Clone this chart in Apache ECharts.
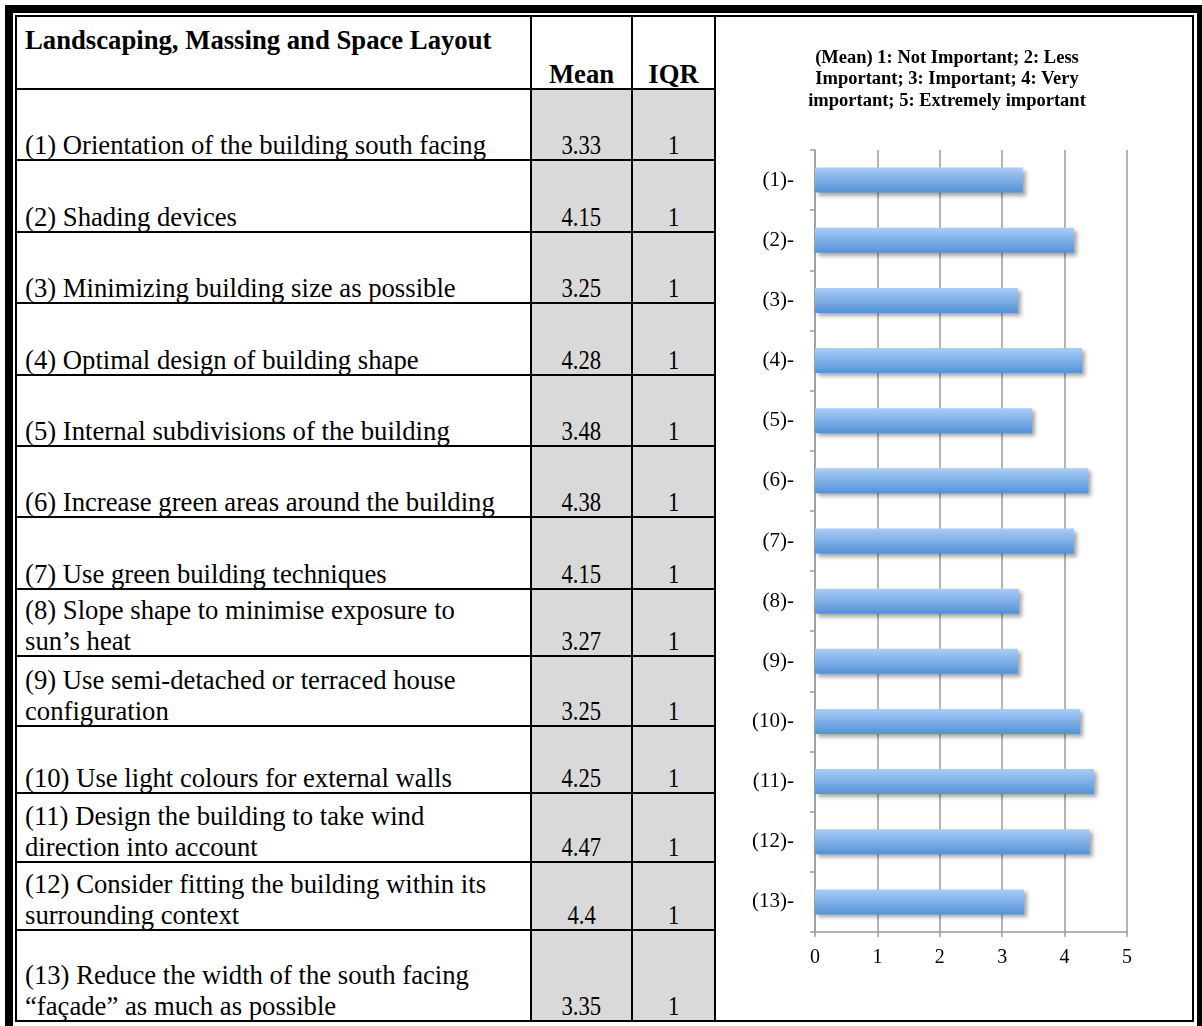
<!DOCTYPE html>
<html>
<head>
<meta charset="utf-8">
<script src="https://cdn.jsdelivr.net/npm/echarts@6/dist/echarts.min.js"></script>
<style>
  html, body { margin: 0; padding: 0; background: #fff; }
  body { width: 1202px; height: 1026px; position: relative; overflow: hidden;
         font-family: "Liberation Serif", "Times New Roman", serif; color: #000; }
  #frame { position: absolute; left: 5px; top: 5px; width: 1197px; height: 1030px;
           box-sizing: border-box; border: 8px solid #000; border-right-width: 5px; }
  #tbl { position: absolute; left: 15px; top: 15px; width: 1179px; height: 1007px;
         box-sizing: border-box; border-left: 2px solid #000; border-top: 2px solid #000;
         display: grid;
         grid-template-columns: 515px 101px 83px 478px;
         grid-template-rows: 73px 71px 72px 71px 72px 71px 71px 72px 67px 70px 67px 69px 68px 91px; }
  .c { box-sizing: border-box; border-right: 2px solid #000; border-bottom: 2px solid #000;
       font-size: 26.7px; line-height: 31px; display: flex; align-items: flex-end; }
  .c > span { position: relative; top: 2px; }
  .txt { padding-left: 8px; padding-bottom: 0; white-space: pre-line; }
  .hd { font-weight: bold; }
  .h0 { align-items: flex-start; padding-top: 6px; }
  .num { justify-content: center; padding-bottom: 0; }
  .g { background: #d9d9d9; }
  .dig { display: inline-block; transform: scaleX(0.85); }
  .chartcell { grid-column: 4; grid-row: 1 / 15; background: #fff; }
  #chart { position: absolute; left: 702px; top: 17px; width: 490px; height: 1003px; }
</style>
</head>
<body>
<div id="frame"></div>
<div id="tbl"></div>
<div id="chart"></div>
<script>
const tableTitle = 'Landscaping, Massing and Space Layout';
const colHeaders = ['Mean', 'IQR'];
const chartTitle = '(Mean) 1: Not Important; 2: Less\nImportant; 3: Important; 4: Very\nimportant; 5: Extremely important';
const categories = ['(1)-', '(2)-', '(3)-', '(4)-', '(5)-', '(6)-', '(7)-', '(8)-', '(9)-', '(10)-', '(11)-', '(12)-', '(13)-'];
const descriptions = [
  '(1) Orientation of the building south facing',
  '(2) Shading devices',
  '(3) Minimizing building size as possible',
  '(4) Optimal design of building shape',
  '(5) Internal subdivisions of the building',
  '(6) Increase green areas around the building',
  '(7) Use green building techniques',
  '(8) Slope shape to minimise exposure to\nsun\u2019s heat',
  '(9) Use semi-detached or terraced house\nconfiguration',
  '(10) Use light colours for external walls',
  '(11) Design the building to take wind\ndirection into account',
  '(12) Consider fitting the building within its\nsurrounding context',
  '(13) Reduce the width of the south facing\n\u201cfa\u00e7ade\u201d as much as possible'
];
const means = [3.33, 4.15, 3.25, 4.28, 3.48, 4.38, 4.15, 3.27, 3.25, 4.25, 4.47, 4.4, 3.35];
const iqrs = [1, 1, 1, 1, 1, 1, 1, 1, 1, 1, 1, 1, 1];
const xTicks = [0, 1, 2, 3, 4, 5];

// ---- table ----
const tbl = document.getElementById('tbl');
function cell(cls, text, extra, digits) {
  const d = document.createElement('div');
  d.className = 'c ' + cls;
  if (extra) Object.assign(d.style, extra);
  const s = document.createElement('span');
  s.textContent = text;
  if (digits) s.className = 'dig';
  d.appendChild(s);
  tbl.appendChild(d);
  return d;
}
cell('txt hd h0', tableTitle, { gridColumn: '1', gridRow: '1' });
cell('num hd', colHeaders[0], { gridColumn: '2', gridRow: '1' });
cell('num hd', colHeaders[1], { gridColumn: '3', gridRow: '1' });
const cc = document.createElement('div');
cc.className = 'c chartcell';
tbl.appendChild(cc);
for (let i = 0; i < descriptions.length; i++) {
  const r = String(i + 2);
  cell('txt', descriptions[i], { gridColumn: '1', gridRow: r });
  cell('num g', String(means[i]), { gridColumn: '2', gridRow: r }, true);
  cell('num g', String(iqrs[i]), { gridColumn: '3', gridRow: r }, true);
}

// ---- chart ----
const serif = '"Liberation Serif", "Times New Roman", serif';
const grey = '#9c9c9c';
const chart = echarts.init(document.getElementById('chart'), null, { renderer: 'canvas' });
chart.setOption({
  animation: false,
  title: {
    text: chartTitle,
    left: 'center',
    top: 25,
    textStyle: { fontFamily: serif, fontWeight: 'bold', fontSize: 18.5, lineHeight: 21.5, color: '#000' }
  },
  grid: { left: 113, right: 65, top: 133, bottom: 88 },
  xAxis: {
    type: 'value', min: xTicks[0], max: xTicks[xTicks.length - 1], interval: 1,
    axisLine: { show: true, lineStyle: { color: grey, width: 1.5 } },
    axisTick: { show: true, length: 5, lineStyle: { color: grey, width: 1.5 } },
    splitLine: { show: true, lineStyle: { color: grey, width: 1.5 } },
    axisLabel: { fontFamily: serif, fontSize: 20, color: '#000', margin: 16 }
  },
  yAxis: {
    type: 'category', data: categories, inverse: true,
    axisLine: { show: true, lineStyle: { color: grey, width: 1.5 } },
    axisTick: { show: true, length: 5, lineStyle: { color: grey, width: 1.5 } },
    splitLine: { show: false },
    axisLabel: { fontFamily: serif, fontSize: 21, color: '#000', margin: 21 }
  },
  series: [{
    type: 'bar',
    data: means,
    barWidth: 25,
    itemStyle: {
      color: new echarts.graphic.LinearGradient(0, 0, 0, 1, [
        { offset: 0, color: '#a9cdf8' },
        { offset: 1, color: '#5591d7' }
      ]),
      shadowBlur: 4,
      shadowColor: 'rgba(0,0,0,0.35)',
      shadowOffsetX: 3,
      shadowOffsetY: 3
    }
  }]
});
</script>
</body>
</html>
